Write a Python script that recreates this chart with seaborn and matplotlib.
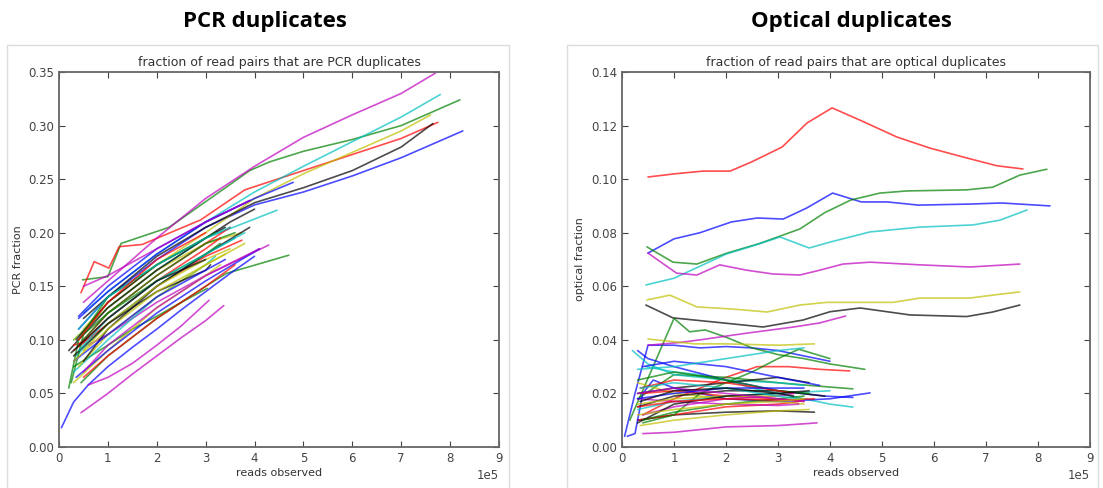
import numpy as np
import pandas as pd
import seaborn as sns
import matplotlib.pyplot as plt
from matplotlib.patches import Rectangle
from matplotlib.ticker import FormatStrFormatter

# reads observed (units of 1e5) and duplicate fraction per library
# lines are listed in the order of the old b, g, r, c, m, y, k colour cycle
pcr_reads = [
    [0.4, 1, 2, 3, 4, 5, 6, 7, 8.26],
    [0.48, 1.0, 1.27, 2.25, 3.5, 3.9, 4.3, 5, 6, 7, 8.2],
    [0.45, 0.72, 1.02, 1.23, 1.7, 2.9, 3.8, 5, 6, 7, 7.75],
    [0.5, 1, 2, 3, 4, 5, 6, 7, 7.8],
    [0.5, 1, 2, 3, 4, 5, 6, 7, 7.7],
    [0.5, 1, 2, 3, 4, 5, 6, 7, 7.6],
    [0.5, 1, 2, 3, 4, 5, 6, 7, 7.65],
    [0.4, 1, 2, 3, 4, 4.79],
    [0.45, 1, 2, 3, 3.42, 4.7],
    [0.3, 1, 2, 3, 3.74],
    [0.3, 1, 2, 3, 4.46],
    [0.6, 1, 1.5, 2, 3, 4.29],
    [0.3, 1, 2, 3, 3.74],
    [0.2, 1, 2, 3, 3.5, 4],
    [0.05, 0.3, 0.6, 1, 1.5, 2, 2.5, 3, 3.5, 4],
    [0.3, 1, 1.5, 2, 2.5, 3.03],
    [0.4, 1, 2, 3, 3.5],
    [0.35, 1, 2, 3, 3.6],
    [0.45, 1, 1.5, 2, 2.5, 3, 3.37],
    [0.3, 1, 2, 3, 3.3],
    [0.35, 1, 2, 3, 3.4],
    [0.4, 1, 2, 3, 3.9],
    [0.25, 0.5, 1, 2, 3, 3.6],
    [0.3, 0.5, 1, 2, 3, 3.3],
    [0.3, 1, 2, 3, 3.2],
    [0.6, 1, 1.5, 2, 2.5, 3.07],
    [0.4, 1, 2, 3, 3.8],
    [0.5, 1, 2, 3, 3.9],
    [0.35, 1, 2, 3, 4.1],
    [0.2, 0.4, 1, 2, 3, 3.2],
    [0.5, 1, 2, 3, 3.6],
    [0.4, 1, 2, 3, 3.5],
    [0.5, 1, 2, 3, 3.9],
    [0.5, 1, 2, 3, 3.5],
    [0.3, 1, 2, 3, 3.1],
    [0.3, 1, 2, 3, 3.4],
    [0.5, 1, 2, 3, 3.3],
    [0.4, 1, 2, 3],
    [0.4, 1, 2, 3, 3.8],
    [0.5, 1, 2, 3, 4.1],
    [0.3, 1, 2, 3, 3.4],
    [0.25, 1, 2, 3],
]
pcr_frac = [
    [0.11, 0.14, 0.175, 0.205, 0.226, 0.238, 0.253, 0.27, 0.295],
    [0.156, 0.159, 0.19, 0.205, 0.245, 0.258, 0.266, 0.276, 0.287, 0.30, 0.324],
    [0.144, 0.173, 0.167, 0.187, 0.189, 0.212, 0.24, 0.258, 0.273, 0.288, 0.303],
    [0.125, 0.145, 0.18, 0.21, 0.238, 0.262, 0.285, 0.308, 0.329],
    [0.135, 0.155, 0.195, 0.232, 0.262, 0.289, 0.31, 0.33, 0.349],
    [0.11, 0.135, 0.17, 0.2, 0.232, 0.255, 0.275, 0.295, 0.31],
    [0.12, 0.14, 0.178, 0.205, 0.228, 0.242, 0.258, 0.28, 0.302],
    [0.12, 0.145, 0.18, 0.21, 0.232, 0.247],
    [0.06, 0.085, 0.12, 0.15, 0.162, 0.179],
    [0.09, 0.115, 0.15, 0.178, 0.193],
    [0.1, 0.13, 0.165, 0.195, 0.221],
    [0.095, 0.105, 0.12, 0.135, 0.16, 0.1885],
    [0.1, 0.13, 0.165, 0.19, 0.2],
    [0.09, 0.13, 0.165, 0.195, 0.21, 0.222],
    [0.018, 0.042, 0.058, 0.075, 0.093, 0.11, 0.128, 0.145, 0.162, 0.178],
    [0.075, 0.095, 0.11, 0.122, 0.135, 0.148],
    [0.095, 0.125, 0.16, 0.19, 0.205],
    [0.085, 0.115, 0.15, 0.18, 0.195],
    [0.032, 0.05, 0.068, 0.085, 0.102, 0.118, 0.132],
    [0.06, 0.09, 0.13, 0.16, 0.17],
    [0.1, 0.135, 0.17, 0.195, 0.205],
    [0.122, 0.15, 0.185, 0.21, 0.23],
    [0.06, 0.105, 0.125, 0.16, 0.19, 0.2],
    [0.095, 0.098, 0.12, 0.155, 0.185, 0.195],
    [0.07, 0.1, 0.14, 0.17, 0.178],
    [0.058, 0.065, 0.078, 0.095, 0.113, 0.137],
    [0.075, 0.105, 0.14, 0.17, 0.19],
    [0.08, 0.11, 0.15, 0.18, 0.205],
    [0.065, 0.09, 0.125, 0.155, 0.185],
    [0.055, 0.1, 0.14, 0.17, 0.195, 0.2],
    [0.065, 0.085, 0.12, 0.15, 0.17],
    [0.11, 0.14, 0.17, 0.195, 0.205],
    [0.15, 0.16, 0.185, 0.21, 0.23],
    [0.09, 0.115, 0.15, 0.175, 0.185],
    [0.085, 0.115, 0.145, 0.165, 0.17],
    [0.08, 0.105, 0.14, 0.165, 0.175],
    [0.1, 0.125, 0.155, 0.18, 0.19],
    [0.1, 0.135, 0.175, 0.2],
    [0.09, 0.12, 0.155, 0.18, 0.2],
    [0.07, 0.095, 0.13, 0.16, 0.185],
    [0.08, 0.11, 0.145, 0.17, 0.18],
    [0.088, 0.12, 0.155, 0.175],
]

opt_reads = [
    [0.5, 1.0, 1.5, 2.1, 2.6, 3.1, 3.55, 4.05, 4.6, 5.1, 5.7, 6.7, 7.3, 8.23],
    [0.48, 0.98, 1.44, 2.02, 2.65, 3.42, 3.9, 4.4, 4.96, 5.48, 6.63, 7.13, 7.65, 8.17],
    [0.5, 1.02, 1.56, 2.08, 2.5, 3.08, 3.56, 4.04, 4.58, 5.29, 5.92, 6.63, 7.21, 7.71],
    [0.46, 1.0, 1.5, 2.0, 2.5, 3.04, 3.6, 4.0, 4.77, 5.73, 6.75, 7.27, 7.79],
    [0.5, 1.05, 1.44, 1.88, 2.4, 2.9, 3.42, 3.8, 4.25, 4.77, 5.73, 6.69, 7.65],
    [0.48, 0.92, 1.44, 2.13, 2.79, 3.42, 3.94, 5.21, 5.73, 6.69, 7.13, 7.65],
    [0.46, 0.98, 1.75, 2.71, 3.48, 4.0, 4.58, 5.54, 6.63, 7.13, 7.65],
    [0.05, 0.25, 0.5, 1, 1.5, 2, 2.5, 3, 3.5, 4.0],
    [0.15, 1.0, 1.3, 1.6, 2, 2.5, 3, 3.5, 4, 4.67],
    [0.4, 1, 2, 2.6, 3.2, 3.8, 4.38],
    [0.46, 1, 1.5, 2, 2.5, 3, 3.5, 4, 4.44],
    [0.5, 1.1, 1.5, 2.4, 3.3, 3.8, 4.3],
    [0.5, 1.4, 2, 3, 3.7],
    [0.3, 1, 2, 3, 3.7],
    [0.3, 0.5, 1, 2, 3, 3.9, 4.44],
    [0.3, 1, 2, 3, 3.6, 4.44],
    [0.3, 1, 2, 3, 3.4],
    [0.2, 0.5, 1, 2, 3, 3.5],
    [0.4, 1, 1.5, 2, 3, 3.75],
    [0.3, 1, 2, 3, 3.5],
    [0.3, 1, 2, 3, 3.6],
    [0.1, 0.25, 0.4, 0.6, 1, 2, 3, 4, 4.77],
    [0.4, 1, 1.5, 2, 2.5, 3, 3.4, 4.0],
    [0.4, 1, 2, 3, 3.5],
    [0.3, 1, 2, 3, 4.0],
    [0.3, 1, 2, 3, 3.4],
    [0.35, 1, 2, 3, 3.6],
    [0.3, 1, 2, 3, 3.9],
    [0.4, 1, 2, 3, 3.8],
    [0.3, 1, 2, 3, 3.6],
    [0.35, 1, 2, 3, 3.3],
    [0.3, 1, 2, 3, 3.5],
    [0.4, 1, 2, 3, 3.3],
    [0.3, 1, 2, 3],
    [0.3, 1, 2, 3, 3.6],
    [0.3, 1, 2, 3, 3.5],
    [0.4, 1, 2, 3, 3.5],
    [0.3, 1, 2, 3, 3.7],
    [0.35, 1, 2, 3, 3.4],
    [0.3, 1, 2, 3, 3.5],
    [0.3, 1, 2, 3, 3.5],
    [0.35, 1, 2, 3, 3.3],
]
opt_frac = [
    [0.0724, 0.0777, 0.080, 0.084, 0.0855, 0.0851, 0.0892, 0.0948, 0.0915, 0.0915, 0.0903, 0.0907, 0.0911, 0.090],
    [0.0747, 0.069, 0.0683, 0.0724, 0.076, 0.0814, 0.0875, 0.0922, 0.0948, 0.0956, 0.096, 0.097, 0.1015, 0.1037],
    [0.1008, 0.102, 0.103, 0.103, 0.1065, 0.112, 0.121, 0.1266, 0.122, 0.1157, 0.1116, 0.1079, 0.105, 0.1038],
    [0.0605, 0.063, 0.0675, 0.072, 0.075, 0.0784, 0.0743, 0.0765, 0.0803, 0.0821, 0.0829, 0.0847, 0.0885],
    [0.0724, 0.0649, 0.0642, 0.068, 0.066, 0.0646, 0.0642, 0.066, 0.0683, 0.069, 0.068, 0.0672, 0.0683],
    [0.0549, 0.0567, 0.0523, 0.0515, 0.0504, 0.053, 0.054, 0.054, 0.0556, 0.0556, 0.0567, 0.0579],
    [0.053, 0.0482, 0.0467, 0.0448, 0.0474, 0.0505, 0.0519, 0.0493, 0.0487, 0.0504, 0.053],
    [0.004, 0.02, 0.038, 0.038, 0.037, 0.0375, 0.037, 0.036, 0.034, 0.032],
    [0.01, 0.048, 0.043, 0.0437, 0.041, 0.037, 0.0345, 0.033, 0.031, 0.029],
    [0.012, 0.018, 0.026, 0.030, 0.030, 0.029, 0.0284],
    [0.03, 0.028, 0.027, 0.025, 0.022, 0.02, 0.018, 0.016, 0.0149],
    [0.038, 0.039, 0.040, 0.0425, 0.0448, 0.0463, 0.0489],
    [0.0403, 0.0385, 0.0385, 0.038, 0.0385],
    [0.01, 0.012, 0.013, 0.0135, 0.013],
    [0.036, 0.033, 0.030, 0.025, 0.021, 0.019, 0.0185],
    [0.018, 0.027, 0.026, 0.024, 0.023, 0.0217],
    [0.01, 0.012, 0.015, 0.016, 0.017],
    [0.036, 0.031, 0.027, 0.025, 0.024, 0.023],
    [0.005, 0.0055, 0.0065, 0.0075, 0.008, 0.009],
    [0.024, 0.02, 0.018, 0.017, 0.016],
    [0.02, 0.022, 0.024, 0.026, 0.024],
    [0.004, 0.005, 0.02, 0.025, 0.022, 0.018, 0.017, 0.018, 0.0202],
    [0.009, 0.012, 0.02, 0.024, 0.028, 0.033, 0.0365, 0.033],
    [0.02, 0.021, 0.019, 0.018, 0.017],
    [0.014, 0.017, 0.019, 0.02, 0.021],
    [0.018, 0.017, 0.016, 0.0155, 0.016],
    [0.008, 0.010, 0.012, 0.0135, 0.014],
    [0.015, 0.019, 0.021, 0.021, 0.019],
    [0.03, 0.032, 0.03, 0.026, 0.023],
    [0.025, 0.028, 0.025, 0.021, 0.02],
    [0.022, 0.025, 0.024, 0.021, 0.02],
    [0.029, 0.03, 0.033, 0.036, 0.037],
    [0.012, 0.015, 0.018, 0.019, 0.02],
    [0.016, 0.018, 0.019, 0.019],
    [0.009, 0.016, 0.019, 0.02, 0.021],
    [0.018, 0.02, 0.022, 0.022, 0.022],
    [0.01, 0.013, 0.016, 0.018, 0.019],
    [0.015, 0.017, 0.018, 0.0175, 0.018],
    [0.022, 0.024, 0.022, 0.019, 0.018],
    [0.02, 0.022, 0.02, 0.018, 0.017],
    [0.012, 0.014, 0.016, 0.017, 0.018],
    [0.017, 0.021, 0.022, 0.02, 0.019],
]

cycle = ['#0000ff', '#008000', '#ff0000', '#00bfbf', '#bf00bf', '#bfbf00', '#000000']
x_ticks = list(range(10))
pcr_yticks = [0.00, 0.05, 0.10, 0.15, 0.20, 0.25, 0.30, 0.35]
opt_yticks = [0.00, 0.02, 0.04, 0.06, 0.08, 0.10, 0.12, 0.14]


def to_long(reads, frac):
    rows = []
    for i, (xs, ys) in enumerate(zip(reads, frac)):
        for x, y in zip(xs, ys):
            rows.append({'sample': 'lib%02d' % i, 'reads': x * 1e5, 'fraction': y})
    return pd.DataFrame(rows)


sns.set_style('white', {
    'xtick.direction': 'in', 'ytick.direction': 'in',
    'xtick.top': True, 'ytick.right': True,
    'xtick.bottom': True, 'ytick.left': True,
    'axes.edgecolor': '#555555',
})
plt.rcParams['font.family'] = ['DejaVu Sans']

fig = plt.figure(figsize=(11.03, 4.88), dpi=100)
W, H = 1103, 488

# light frames around each panel
fig.add_artist(Rectangle((7 / W, -0.02), 502 / W, 1.02 - 45 / H, transform=fig.transFigure,
                         fill=False, edgecolor='#dcdcdc', lw=1))
fig.add_artist(Rectangle((567 / W, -0.02), 531 / W, 1.02 - 45 / H, transform=fig.transFigure,
                         fill=False, edgecolor='#dcdcdc', lw=1))

panels = [
    ([59 / W, 41 / H, 440 / W, 375 / H], pcr_reads, pcr_frac, pcr_yticks, 0.35,
     'fraction of read pairs that are PCR duplicates', 'PCR fraction', 'PCR duplicates', 265),
    ([622 / W, 41 / H, 468 / W, 375 / H], opt_reads, opt_frac, opt_yticks, 0.14,
     'fraction of read pairs that are optical duplicates', 'optical fraction', 'Optical duplicates', 851),
]

for rect, reads, frac, yt, ymax, inner, ylab, head, hx in panels:
    ax = fig.add_axes(rect)
    df = to_long(reads, frac)
    pal = [cycle[i % 7] for i in range(len(reads))]
    sns.lineplot(data=df, x='reads', y='fraction', hue='sample', palette=pal,
                 estimator=None, legend=False, linewidth=1.2, alpha=0.7, ax=ax)
    ax.set_xlim(0, 9e5)
    ax.set_ylim(0, ymax)
    ax.set_xticks([t * 1e5 for t in x_ticks])
    ax.set_yticks(yt)
    ax.yaxis.set_major_formatter(FormatStrFormatter('%.2f'))
    ax.ticklabel_format(style='sci', axis='x', scilimits=(0, 0))
    ax.tick_params(labelsize=8.5, colors='#444444', length=4, width=0.8)
    ax.xaxis.get_offset_text().set_fontsize(8.5)
    ax.xaxis.get_offset_text().set_color('#444444')
    for s in ax.spines.values():
        s.set_linewidth(1.3)
        s.set_color('#666666')
    ax.set_title(inner, fontsize=9, color='#333333', pad=4)
    ax.set_xlabel('reads observed', fontsize=8, color='#333333', labelpad=2)
    ax.set_ylabel(ylab, fontsize=8, color='#333333', labelpad=4)
    fig.text(hx / W, 1 - 21 / H, head, ha='center', va='center', fontsize=16,
             fontweight='bold', color='black',
             family=['Liberation Sans Narrow', 'Open Sans', 'DejaVu Sans'])

fig.savefig('out.png', dpi=100)
